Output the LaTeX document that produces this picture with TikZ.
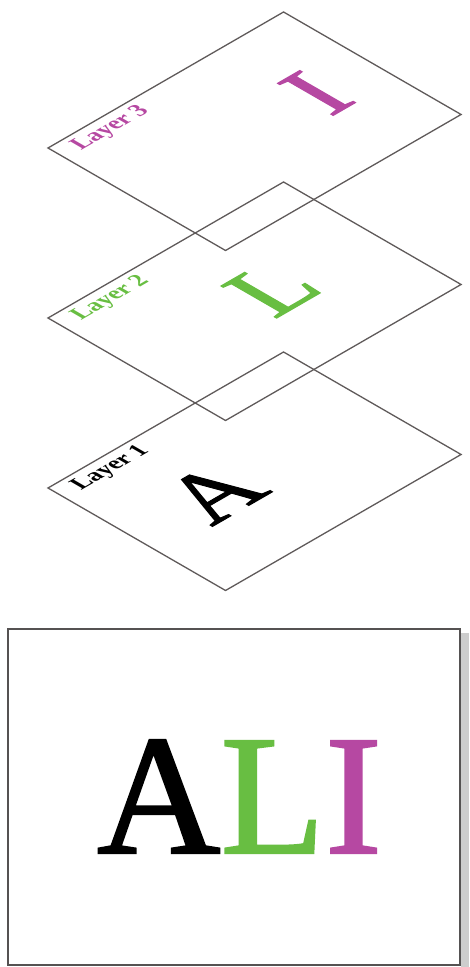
\documentclass[tikz,border=0pt]{standalone}
\usepackage{fontspec}
\setmainfont{Liberation Serif}
\newfontfamily\heavyserif{Liberation Serif}[FakeBold=1.3]
\definecolor{layermag}{RGB}{182,72,162}
\definecolor{layergreen}{RGB}{104,190,66}
\definecolor{edgegray}{RGB}{95,90,90}
\definecolor{boxgray}{RGB}{85,82,82}
\definecolor{shadowgray}{RGB}{205,205,205}
\begin{document}
\begin{tikzpicture}[x=1pt,y=1pt,
  pagebox/.style={draw=edgegray, line width=1.3pt, minimum width=272pt, minimum height=205pt,
    inner sep=0pt, outer sep=0pt, anchor=north west, transform shape},
  layerlabel/.style={anchor=base west, inner sep=0pt, transform shape,
    font=\fontsize{24}{24}\selectfont\bfseries},
  bigletter/.style={anchor=center, inner sep=0pt, transform shape,
    font=\fontsize{98}{98}\heavyserif}
]
\useasboundingbox (0,0) rectangle (469,967);

% Layer 3
\begin{scope}[cm={0.866,0.5,-0.866,0.5,(48,819)}]
  \node[pagebox] (p3) at (0,0) {};
  \node[layerlabel, text=layermag] (lab3) at (16,-22) {Layer 3};
  \node[bigletter, text=layermag] (let3) at (210,-100) {I};
\end{scope}

% Layer 2
\begin{scope}[cm={0.866,0.5,-0.866,0.5,(48,649)}]
  \node[pagebox] (p2) at (0,0) {};
  \node[layerlabel, text=layergreen] (lab2) at (16,-22) {Layer 2};
  \node[bigletter, text=layergreen] (let2) at (159,-100) {L};
\end{scope}

% Layer 1
\begin{scope}[cm={0.866,0.5,-0.866,0.5,(48,479)}]
  \node[pagebox] (p1) at (0,0) {};
  \node[layerlabel, text=black] (lab1) at (16,-22) {Layer 1};
  \node[bigletter, text=black] (let1) at (91,-101) {A};
\end{scope}

% Composite
\fill[shadowgray] (461,334) rectangle (469,0);
\node[draw=boxgray, line width=2pt, minimum width=452pt, minimum height=336pt,
  inner sep=0pt, outer sep=0pt, anchor=north west, fill=white] (comp) at (8,338) {};
\node[anchor=base, inner sep=0pt, font=\fontsize{171}{171}\heavyserif] (ali) at (239.5,114)
  {\textcolor{black}{A}\textcolor{layergreen}{L}\textcolor{layermag}{I}};
\end{tikzpicture}
\end{document}
